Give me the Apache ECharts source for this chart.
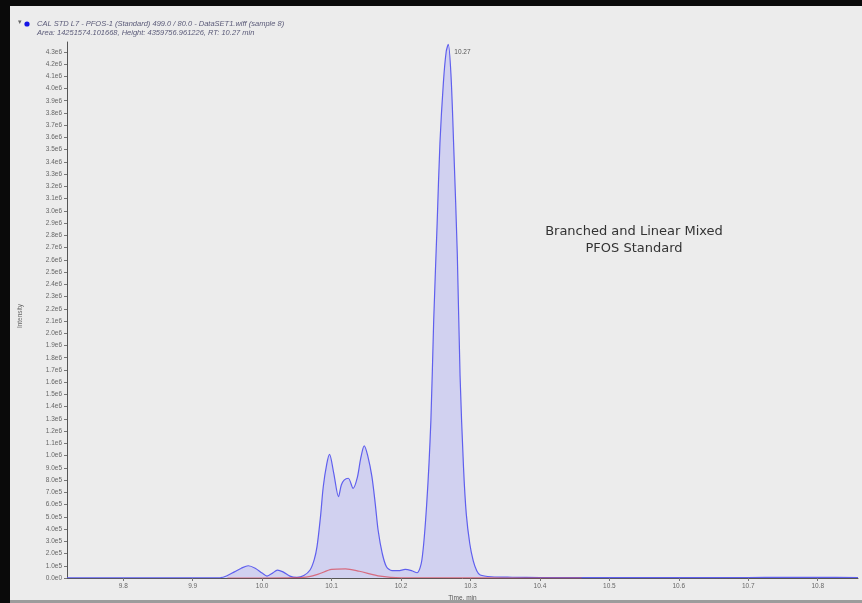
<!DOCTYPE html>
<html>
<head>
<meta charset="utf-8">
<script src="https://cdn.jsdelivr.net/npm/echarts@6/dist/echarts.min.js"></script>
<style>
  html, body { margin: 0; padding: 0; background: #ececec; }
  #chart { position: absolute; left: 0; top: 0; width: 862px; height: 603px; }
  .edge { position: absolute; pointer-events: none; }
</style>
</head>
<body>
<div id="chart"></div>
<div class="edge" style="left:0;top:0;width:862px;height:6px;background:#0a0a0a"></div>
<div class="edge" style="left:0;top:0;width:10px;height:603px;background:#0a0a0a"></div>
<div class="edge" style="left:10px;top:600px;width:852px;height:3px;background:#9c9c9c"></div>
<script>
// XIC trace of PFOS 499.0 / 80.0 (retention time in minutes, intensity in counts)
const traceTime = [
  9.719, 9.80, 9.90, 9.94, 9.95, 9.96, 9.97, 9.98, 9.99, 10.00,
  10.007, 10.015, 10.022, 10.03, 10.04, 10.05, 10.06, 10.069, 10.075, 10.079,
  10.084, 10.088, 10.093, 10.097, 10.103, 10.110, 10.114, 10.118, 10.124, 10.131,
  10.137, 10.142, 10.147, 10.152, 10.158, 10.163, 10.167, 10.173, 10.179, 10.187,
  10.196, 10.206, 10.215, 10.223, 10.23, 10.237, 10.243, 10.247, 10.252, 10.256,
  10.261, 10.265, 10.268, 10.272, 10.276, 10.281, 10.285, 10.29, 10.294, 10.299,
  10.304, 10.309, 10.314, 10.33, 10.36, 10.40, 10.45, 10.5, 10.6, 10.7,
  10.75, 10.8, 10.858
];
const traceIntensity = [
  2000, 2000, 2000, 3000, 20000, 50000, 80000, 100000, 80000, 40000,
  16000, 40000, 65000, 50000, 15000, 5000, 20000, 65000, 150000, 256000,
  500000, 746000, 930000, 1010000, 860000, 665000, 760000, 800000, 815000, 733000,
  820000, 980000, 1080000, 1000000, 830000, 600000, 390000, 200000, 92000, 60000,
  60000, 70000, 60000, 43000, 147000, 610000, 1290000, 2100000, 2900000, 3550000,
  4050000, 4300000, 4360000, 4100000, 3500000, 2650000, 1650000, 900000, 520000, 280000,
  140000, 60000, 25000, 10000, 6000, 4000, 3000, 3000, 3000, 4000,
  5000, 6000, 4000
];

// integration baseline trace
const baseTime = [9.95, 10.0, 10.06, 10.08, 10.10, 10.12, 10.14, 10.17, 10.20, 10.25, 10.30, 10.35, 10.46];
const baseIntensity = [0, 0, 5000, 30000, 70000, 75000, 55000, 15000, 2000, 2000, 1000, 0, 0];

// axis ticks
const timeTicks = [9.8, 9.9, 10.0, 10.1, 10.2, 10.3, 10.4, 10.5, 10.6, 10.7, 10.8];
const intensityTicks = [];
for (let i = 0; i <= 43; i++) intensityTicks.push(i * 100000);

const headerLine1 = 'CAL STD L7 - PFOS-1 (Standard) 499.0 / 80.0 - DataSET1.wiff (sample 8)';
const headerLine2 = 'Area: 14251574.101668, Height: 4359756.961226, RT: 10.27 min';
const noteLines = ['Branched and Linear Mixed', 'PFOS Standard'];

// locate the apex so its retention time can be labelled
let apex = 0;
traceIntensity.forEach((v, i) => { if (v > traceIntensity[apex]) apex = i; });

const traceData = traceTime.map((t, i) => [t, traceIntensity[i]]);
const baseData = baseTime.map((t, i) => [t, baseIntensity[i]]);

function fmtIntensity(v) {
  if (v === 0) return '0.0e0';
  if (v < 1e6) return (v / 1e5).toFixed(1) + 'e5';
  return (v / 1e6).toFixed(1) + 'e6';
}

const tiny = { fontSize: 6.5, color: '#666', fontFamily: 'Liberation Sans' };

const chart = echarts.init(document.getElementById('chart'), null, { renderer: 'canvas' });
chart.setOption({
  backgroundColor: '#ececec',
  animation: false,
  grid: { left: 67, right: 4, top: 42, bottom: 25, outerBoundsMode: 'none', containLabel: false },
  xAxis: {
    type: 'value',
    min: 9.719, max: 10.858,
    name: 'Time, min', nameLocation: 'middle', nameGap: 15,
    nameTextStyle: { fontSize: 6.5, color: '#555', fontFamily: 'Liberation Sans' },
    axisLine: { lineStyle: { color: '#555', width: 1 } },
    axisTick: { show: true, length: 3, lineStyle: { color: '#777' }, customValues: timeTicks },
    axisLabel: Object.assign({ customValues: timeTicks, margin: 5, formatter: v => v.toFixed(1) }, tiny),
    splitLine: { show: false }
  },
  yAxis: {
    type: 'value',
    min: 0, max: 4380000,
    axisLine: { show: true, lineStyle: { color: '#555', width: 1 } },
    axisTick: { show: true, length: 3, lineStyle: { color: '#777' }, customValues: intensityTicks },
    axisLabel: Object.assign({ customValues: intensityTicks, margin: 5, formatter: fmtIntensity }, tiny),
    splitLine: { show: false }
  },
  graphic: [
    { type: 'text', left: 18, top: 19, style: { text: '\u25BE', fontSize: 7, fill: '#666' } },
    { type: 'circle', shape: { cx: 27, cy: 24, r: 2.6 }, style: { fill: '#1414e6' } },
    { type: 'text', left: 37, top: 20, style: { text: headerLine1, fontSize: 7.5, fontStyle: 'italic', fill: '#5a5a78', fontFamily: 'Liberation Sans' } },
    { type: 'text', left: 37, top: 28.5, style: { text: headerLine2, fontSize: 7.5, fontStyle: 'italic', fill: '#5a5a78', fontFamily: 'Liberation Sans' } },
    { type: 'text', x: 20, y: 316, rotation: Math.PI / 2,
      style: { text: 'Intensity', fontSize: 6.5, fill: '#666', align: 'center', verticalAlign: 'middle', fontFamily: 'Liberation Sans' } },
    { type: 'text', x: 634, y: 232, style: { text: noteLines[0], fontSize: 13, fill: '#333', align: 'center', verticalAlign: 'middle', fontFamily: 'DejaVu Sans' } },
    { type: 'text', x: 634, y: 249, style: { text: noteLines[1], fontSize: 13, fill: '#333', align: 'center', verticalAlign: 'middle', fontFamily: 'DejaVu Sans' } }
  ],
  series: [
    {
      name: 'PFOS', type: 'line', data: traceData,
      showSymbol: false, symbol: 'none', smooth: 0.3,
      lineStyle: { color: '#5f5fee', width: 1.2 },
      areaStyle: { color: 'rgba(110,110,255,0.30)' },
      markPoint: {
        symbol: 'circle', symbolSize: 0,
        data: [{ coord: [traceTime[apex], traceIntensity[apex]], value: traceTime[apex].toFixed(2) }],
        label: Object.assign({ show: true, position: 'right', offset: [1, 8], formatter: '{c}' }, tiny, { color: '#555' })
      },
      z: 2
    },
    {
      name: 'baseline', type: 'line', data: baseData,
      showSymbol: false, symbol: 'none', smooth: 0.3,
      lineStyle: { color: '#d84a5a', width: 1.2, opacity: 0.75 },
      z: 3
    }
  ]
});
</script>
</body>
</html>
